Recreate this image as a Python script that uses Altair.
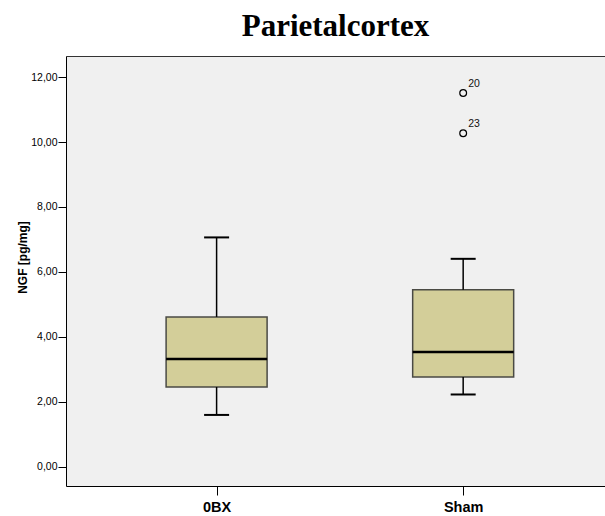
import altair as alt
import pandas as pd

groups = ["0BX", "Sham"]
whisker_low = [1.59, 2.22]
q1 = [2.45, 2.76]
median = [3.31, 3.53]
q3 = [4.61, 5.45]
whisker_high = [7.06, 6.40]

outlier_group = ["Sham", "Sham"]
outlier_value = [11.51, 10.27]
outlier_label = ["20", "23"]

y_ticks = [0, 2, 4, 6, 8, 10, 12]

box_df = pd.DataFrame({
    "group": groups, "lo": whisker_low, "q1": q1, "med": median,
    "q3": q3, "hi": whisker_high,
})
out_df = pd.DataFrame({"group": outlier_group, "val": outlier_value, "lab": outlier_label})

xscale = alt.Scale(type="point", domain=groups, padding=0.593, align=0.515)
yscale = alt.Scale(domain=[-0.6, 12.65], nice=False, zero=False)

x_bottom = alt.X("group:N", scale=xscale, sort=groups, title=None,
                 axis=alt.Axis(orient="bottom", labelAngle=0, labelFont="Liberation Sans",
                               labelFontWeight="bold", labelFontSize=14.5, labelColor="#000000",
                               tickSize=9, tickColor="#000000", tickWidth=1,
                               domainColor="#000000", domainWidth=1, labelPadding=5,
                               grid=False))
x_top = alt.X("group:N", scale=xscale, sort=groups, title=None,
              axis=alt.Axis(orient="top", labels=False, ticks=False, domainColor="#333333",
                            domainWidth=1, grid=False))
x_plain = alt.X("group:N", scale=xscale, sort=groups, title=None, axis=None)

y_axis = alt.Axis(values=y_ticks, labelExpr="replace(format(datum.value, '.2f'), '.', ',')",
                  labelFont="Liberation Sans", labelFontSize=10.5, labelColor="#000000",
                  tickSize=8, tickColor="#000000", labelPadding=1,
                  domainColor="#000000", domainWidth=1, grid=False,
                  title="NGF [pg/mg]", titleFont="Liberation Sans", titleFontSize=12,
                  titleFontWeight="bold", titleColor="#000000", titleX=-44, titleY=201,
                  titleBaseline="middle", titleAlign="center", titleAngle=270)

base = alt.Chart(box_df)

whisk_low = base.mark_rule(color="#000000", strokeWidth=1.5, opacity=1).encode(
    x=x_bottom, y=alt.Y("lo:Q", scale=yscale, axis=y_axis), y2="q1:Q")
whisk_high = base.mark_rule(color="#000000", strokeWidth=1.5, opacity=1).encode(
    x=x_plain, y=alt.Y("q3:Q", scale=yscale), y2="hi:Q")
cap_low = base.mark_tick(color="#000000", size=25, thickness=2, opacity=1).encode(
    x=x_plain, y=alt.Y("lo:Q", scale=yscale))
cap_high = base.mark_tick(color="#000000", size=25, thickness=2, opacity=1).encode(
    x=x_plain, y=alt.Y("hi:Q", scale=yscale))
box = base.mark_bar(size=101, fill="#D3CE99", stroke="#4A4A44", strokeWidth=1.5, opacity=1).encode(
    x=x_plain, y=alt.Y("q1:Q", scale=yscale), y2="q3:Q")
med = base.mark_tick(color="#000000", size=101, thickness=2.5, opacity=1).encode(
    x=x_plain, y=alt.Y("med:Q", scale=yscale))

outs = alt.Chart(out_df).mark_point(shape="circle", size=46, filled=False, opacity=1,
                                    color="#000000", strokeWidth=1.2).encode(
    x=x_top, y=alt.Y("val:Q", scale=yscale))
labs = alt.Chart(out_df).mark_text(align="left", baseline="alphabetic", dx=5, dy=-6,
                                   font="Liberation Sans", fontSize=10.5, color="#111111").encode(
    x=x_plain, y=alt.Y("val:Q", scale=yscale), text="lab:N")

chart = alt.layer(box, whisk_low, whisk_high, cap_low, cap_high, med, outs, labs).resolve_axis(
    x="independent"
).properties(
    width=539, height=430,
    title=alt.Title("Parietalcortex", font="Liberation Serif", fontSize=31, fontWeight="bold",
                    color="#000000", anchor="middle", offset=13),
    padding={"left": 66, "top": 56, "right": 0, "bottom": 30},
    autosize=alt.AutoSizeParams(type="none"),
    background="#FFFFFF",
).configure_view(fill="#F0F0F0", stroke=None)

chart.save("out.html", embed_options={"renderer": "svg", "actions": False})
